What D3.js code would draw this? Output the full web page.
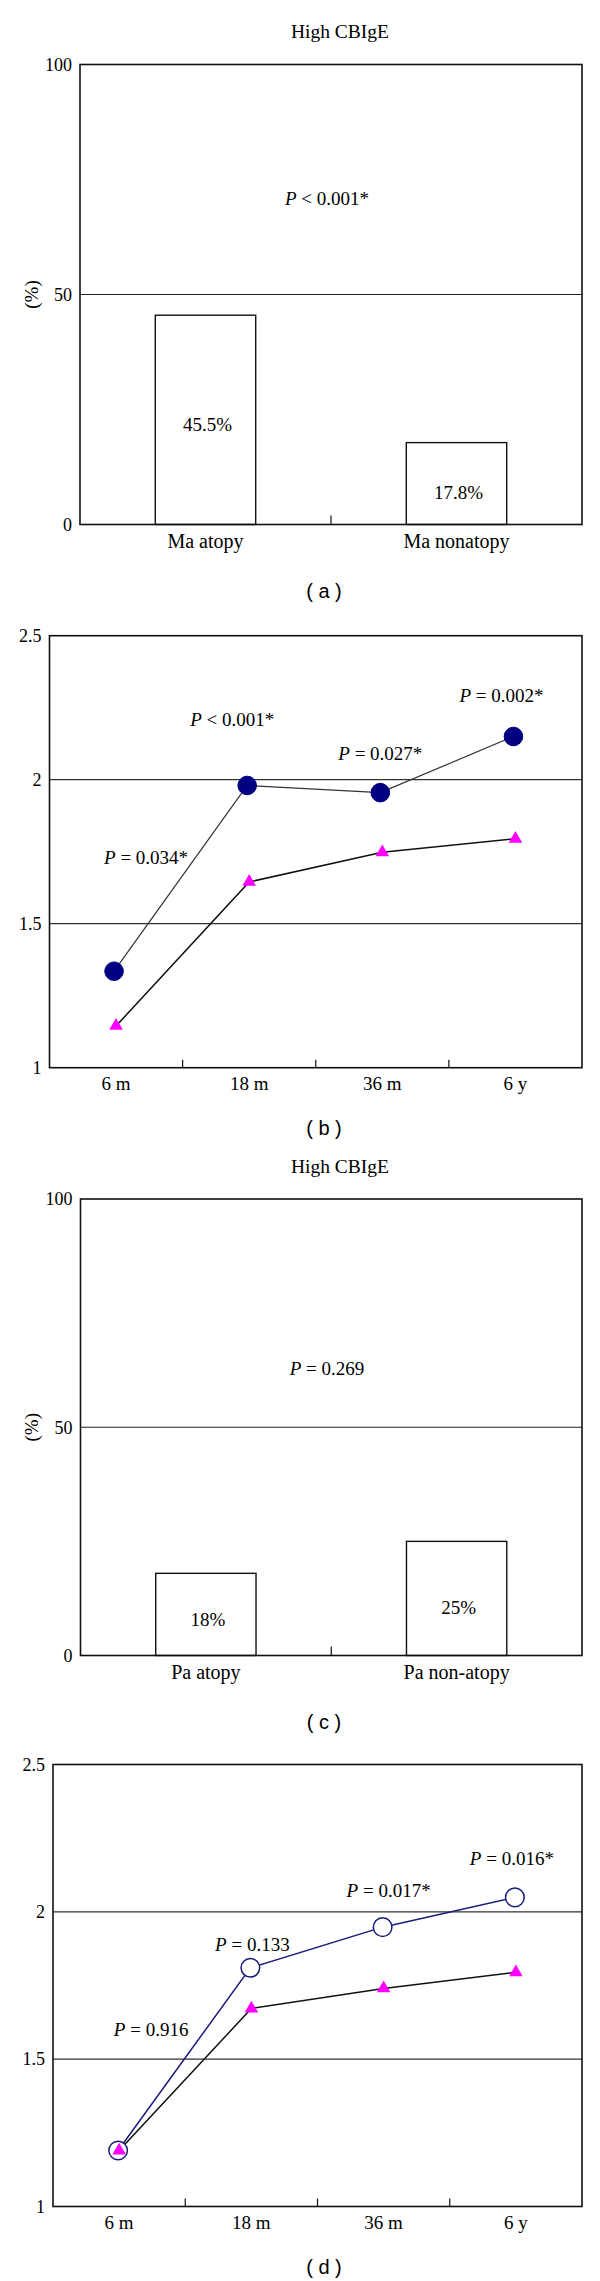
<!DOCTYPE html>
<html>
<head>
<meta charset="utf-8">
<script src="https://cdn.jsdelivr.net/npm/d3@7"></script>
<style>
  body { margin: 0; background: #fff; }
  svg text { font-family: "Liberation Serif", "DejaVu Serif", serif; fill: #000; }
  .panel-tag { font-family: "Liberation Sans", Arial, sans-serif; }
</style>
</head>
<body>
<svg id="chart"></svg>
<script>
const svgWidth = 600;
const svgHeight = 2281;

// panel (a) / (c): high CBIgE bar charts
const barCatsA = ["Ma atopy", "Ma nonatopy"];
const barValsA = [45.5, 17.8];
const barTextA = ["45.5%", "17.8%"];
const barCatsC = ["Pa atopy", "Pa non-atopy"];
const barValsC = [18, 25];
const barTextC = ["18%", "25%"];
const barTicks = [0, 50, 100];

// panel (b) / (d): line charts over time
const timeCats = ["6 m", "18 m", "36 m", "6 y"];
const circlesB = [1.335, 1.98, 1.955, 2.15];
const trianglesB = [1.145, 1.645, 1.748, 1.795];
const circlesD = [1.19, 1.81, 1.948, 2.049];
const trianglesD = [1.19, 1.672, 1.74, 1.795];
const lineTicks = [1, 1.5, 2, 2.5];

// p-value notes: [italic part, rest, category index, x shift, value]
const notesA = [["P", " < 0.001*", 71]];
const notesB = [
  ["P", " = 0.034*", 0, 30, 1.73],
  ["P", " < 0.001*", 1, -17, 2.21],
  ["P", " = 0.027*", 2, -2, 2.09],
  ["P", " = 0.002*", 3, -14, 2.294]
];
const notesC = [["P", " = 0.269", 63]];
const notesD = [
  ["P", " = 0.916", 0, 32, 1.60],
  ["P", " = 0.133", 1, 1, 1.891],
  ["P", " = 0.017*", 2, 5, 2.072],
  ["P", " = 0.016*", 3, -4, 2.182]
];
// heights (in %) where the bar texts sit
const barTextPosA = [21.8, 7.0];
const barTextPosC = [7.9, 10.6];

const svg = d3.select("#chart")
  .attr("width", svgWidth)
  .attr("height", svgHeight);

function pNote(g, x, y, note) {
  const t = g.append("text")
    .attr("x", x)
    .attr("y", y)
    .attr("dy", "0.35em")
    .attr("text-anchor", "middle")
    .style("font-size", "19px");
  t.append("tspan").style("font-style", "italic").text(note[0]);
  t.append("tspan").text(note[1]);
}

function barPanel(box, cats, vals, texts, textPos, notes, title, tag) {
  const g = svg.append("g");

  const x = d3.scaleBand()
    .domain(cats)
    .range([box.left, box.right])
    .paddingInner(0.6)
    .paddingOuter(0.3);
  const y = d3.scaleLinear()
    .domain([0, 100])
    .range([box.bottom, box.top]);

  g.append("text")
    .attr("x", 340)
    .attr("y", box.top - 33)
    .attr("dy", "0.35em")
    .attr("text-anchor", "middle")
    .style("font-size", "19.5px")
    .text(title);

  // 50% grid line
  g.append("line")
    .attr("x1", box.left).attr("x2", box.right)
    .attr("y1", y(50)).attr("y2", y(50))
    .attr("stroke", "#222").attr("stroke-width", 1.2);

  g.selectAll(".bar")
    .data(vals)
    .enter().append("rect")
    .attr("class", "bar")
    .attr("x", (d, i) => x(cats[i]))
    .attr("width", x.bandwidth())
    .attr("y", d => y(d))
    .attr("height", d => y(0) - y(d))
    .attr("fill", "#fff")
    .attr("stroke", "#111")
    .attr("stroke-width", 1.4);

  g.selectAll(".bar-text")
    .data(texts)
    .enter().append("text")
    .attr("class", "bar-text")
    .attr("x", (d, i) => x(cats[i]) + x.bandwidth() / 2 + 2)
    .attr("y", (d, i) => y(textPos[i]))
    .attr("dy", "0.35em")
    .attr("text-anchor", "middle")
    .style("font-size", "19px")
    .text(d => d);

  // y axis labels
  const yAxis = d3.axisLeft(y).tickValues(barTicks).tickSize(0).tickPadding(8);
  g.append("g")
    .attr("transform", `translate(${box.left},0)`)
    .call(yAxis)
    .call(a => a.select(".domain").remove())
    .selectAll("text")
    .style("font-family", "Liberation Serif, serif")
    .style("font-size", "18px")
    .attr("fill", "#000");

  g.append("text")
    .attr("transform", `translate(31,${y(50)}) rotate(-90)`)
    .attr("dy", "0.35em")
    .attr("text-anchor", "middle")
    .style("font-size", "19px")
    .text("(%)");

  // x axis labels
  const xAxis = d3.axisBottom(x).tickSize(0).tickPadding(9);
  g.append("g")
    .attr("transform", `translate(0,${box.bottom})`)
    .call(xAxis)
    .call(a => a.select(".domain").remove())
    .selectAll("text")
    .style("font-family", "Liberation Serif, serif")
    .style("font-size", "20px")
    .attr("fill", "#000");

  // middle tick, pointing up
  const mid = (box.left + box.right) / 2;
  g.append("line")
    .attr("x1", mid).attr("x2", mid)
    .attr("y1", box.bottom).attr("y2", box.bottom - 9)
    .attr("stroke", "#111").attr("stroke-width", 1.2);

  notes.forEach(n => pNote(g, 327, y(n[2]), n));

  g.append("rect")
    .attr("x", box.left).attr("y", box.top)
    .attr("width", box.right - box.left)
    .attr("height", box.bottom - box.top)
    .attr("fill", "none")
    .attr("stroke", "#111")
    .attr("stroke-width", 1.6);

  g.append("text")
    .attr("class", "panel-tag")
    .attr("x", 324)
    .attr("y", box.bottom + 66)
    .attr("dy", "0.35em")
    .attr("text-anchor", "middle")
    .style("font-size", "20px")
    .text(tag);
}

function linePanel(box, circles, triangles, openCircles, notes, tag) {
  const g = svg.append("g");

  const x = d3.scaleBand()
    .domain(timeCats)
    .range([box.left, box.right]);
  const y = d3.scaleLinear()
    .domain([1, 2.5])
    .range([box.bottom, box.top]);
  const cx = i => x(timeCats[i]) + x.bandwidth() / 2;

  [1.5, 2].forEach(v => {
    g.append("line")
      .attr("x1", box.left).attr("x2", box.right)
      .attr("y1", y(v)).attr("y2", y(v))
      .attr("stroke", "#333").attr("stroke-width", 1.3);
  });

  // band boundary ticks, pointing up
  g.selectAll(".xtick")
    .data(timeCats.slice(1))
    .enter().append("line")
    .attr("class", "xtick")
    .attr("x1", d => x(d)).attr("x2", d => x(d))
    .attr("y1", box.bottom).attr("y2", box.bottom - 8)
    .attr("stroke", "#111").attr("stroke-width", 1.2);

  const yAxis = d3.axisLeft(y).tickValues(lineTicks)
    .tickFormat(d => String(d)).tickSize(0).tickPadding(8);
  g.append("g")
    .attr("transform", `translate(${box.left},0)`)
    .call(yAxis)
    .call(a => a.select(".domain").remove())
    .selectAll("text")
    .style("font-family", "Liberation Serif, serif")
    .style("font-size", "18px")
    .attr("fill", "#000");

  const xAxis = d3.axisBottom(x).tickSize(0).tickPadding(9);
  g.append("g")
    .attr("transform", `translate(0,${box.bottom})`)
    .call(xAxis)
    .call(a => a.select(".domain").remove())
    .selectAll("text")
    .style("font-family", "Liberation Serif, serif")
    .style("font-size", "19px")
    .attr("fill", "#000");

  const shift = openCircles ? 1 : 2;
  const line = d3.line()
    .x((d, i) => cx(i) - shift)
    .y(d => y(d));
  const triLine = d3.line()
    .x((d, i) => cx(i))
    .y(d => y(d));

  g.append("path")
    .datum(circles)
    .attr("d", line)
    .attr("fill", "none")
    .attr("stroke", openCircles ? "#1a1a7a" : "#333")
    .attr("stroke-width", openCircles ? 1.5 : 1.2);

  g.append("path")
    .datum(triangles)
    .attr("d", triLine)
    .attr("fill", "none")
    .attr("stroke", "#111")
    .attr("stroke-width", 1.5);

  g.selectAll(".dot")
    .data(circles)
    .enter().append("circle")
    .attr("class", "dot")
    .attr("cx", (d, i) => cx(i) - shift)
    .attr("cy", d => y(d))
    .attr("r", 9.3)
    .attr("fill", openCircles ? "#fff" : "#000080")
    .attr("stroke", openCircles ? "#1a1a7a" : "#000080")
    .attr("stroke-width", openCircles ? 1.5 : 1);

  const tri = d3.symbol().type(d3.symbolTriangle).size(80);
  g.selectAll(".tri")
    .data(triangles)
    .enter().append("path")
    .attr("class", "tri")
    .attr("transform", (d, i) => `translate(${cx(i)},${y(d)})`)
    .attr("d", tri)
    .attr("fill", "#ff00ff");

  notes.forEach(n => pNote(g, cx(n[2]) + n[3], y(n[4]), n));

  g.append("rect")
    .attr("x", box.left).attr("y", box.top)
    .attr("width", box.right - box.left)
    .attr("height", box.bottom - box.top)
    .attr("fill", "none")
    .attr("stroke", "#111")
    .attr("stroke-width", 1.6);

  g.append("text")
    .attr("class", "panel-tag")
    .attr("x", 324)
    .attr("y", box.bottom + 60)
    .attr("dy", "0.35em")
    .attr("text-anchor", "middle")
    .style("font-size", "20px")
    .text(tag);
}

barPanel({ left: 80, right: 582, top: 64.5, bottom: 524.5 },
  barCatsA, barValsA, barTextA, barTextPosA, notesA, "High CBIgE", "( a )");
linePanel({ left: 49.5, right: 582, top: 635.7, bottom: 1067.7 },
  circlesB, trianglesB, false, notesB, "( b )");
barPanel({ left: 80.5, right: 582, top: 1199, bottom: 1655.5 },
  barCatsC, barValsC, barTextC, barTextPosC, notesC, "High CBIgE", "( c )");
linePanel({ left: 53, right: 582, top: 1764.5, bottom: 2206.5 },
  circlesD, trianglesD, true, notesD, "( d )");
</script>
</body>
</html>
